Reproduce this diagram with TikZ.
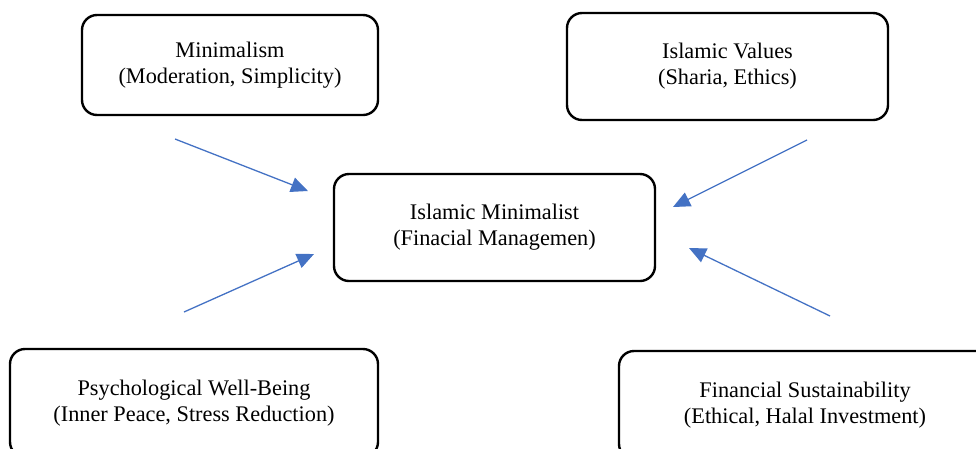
\documentclass[tikz,border=0pt]{standalone}
\usepackage{fontspec}
\setmainfont{Liberation Serif}
\usetikzlibrary{arrows.meta}
\definecolor{arrowblue}{HTML}{4472C4}
\tikzset{
  box/.style={draw=black, line width=2.4pt, rounded corners=15pt, align=center,
    font=\fontsize{22.3}{26}\selectfont, inner sep=0pt},
  link/.style={draw=arrowblue, line width=1.3pt,
    -{Triangle[length=17pt,width=15pt]}}
}
\begin{document}
\begin{tikzpicture}[x=1pt,y=-1pt]
\useasboundingbox (0,0) rectangle (976,448);
\clip (0,0) rectangle (976,448);
\node[box, minimum width=296pt, minimum height=100pt] (mini) at (230,65)
  {Minimalism\\(Moderation, Simplicity)};
\node[box, minimum width=321pt, minimum height=107pt] (islam) at (727.5,66.5)
  {Islamic Values\\(Sharia, Ethics)};
\node[box, minimum width=321pt, minimum height=107pt] (center) at (494.5,227.5)
  {Islamic Minimalist\\(Finacial Managemen)};
\node[box, minimum width=368pt, minimum height=108pt] (psych) at (194,403)
  {Psychological Well-Being\\(Inner Peace, Stress Reduction)};
\node[box, minimum width=372pt, minimum height=108pt] (fin) at (805,405)
  {Financial Sustainability\\(Ethical, Halal Investment)};
\coordinate (a1s) at (175,139);
\coordinate (a1e) at (308,191);
\coordinate (a2s) at (807,140);
\coordinate (a2e) at (673,207);
\coordinate (a3s) at (184,312);
\coordinate (a3e) at (314,254);
\coordinate (a4s) at (830,316);
\coordinate (a4e) at (689,248);
\draw[link] (a1s) -- (a1e);
\draw[link] (a2s) -- (a2e);
\draw[link] (a3s) -- (a3e);
\draw[link] (a4s) -- (a4e);
\end{tikzpicture}
\end{document}
